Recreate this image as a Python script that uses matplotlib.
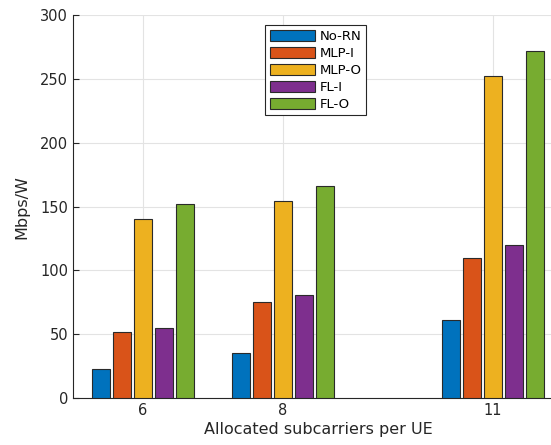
import numpy as np
import matplotlib.pyplot as plt

# Data
subcarriers = [6, 8, 11]
series = ["No-RN", "MLP-I", "MLP-O", "FL-I", "FL-O"]
no_rn = [23, 35, 61]
mlp_i = [52, 75, 110]
mlp_o = [140, 154, 252]
fl_i = [55, 81, 120]
fl_o = [152, 166, 272]
colors = ["#0072BD", "#D95319", "#EDB120", "#7E2F8E", "#77AC30"]

values = [no_rn, mlp_i, mlp_o, fl_i, fl_o]

fig = plt.figure(figsize=(5.51, 4.45), dpi=100)
ax = fig.add_axes([0.1325, 0.1056, 0.889, 0.8604])

x = np.array(subcarriers, dtype=float)
offsets = [-0.6, -0.3, 0.0, 0.3, 0.6]
for name, vals, c, off in zip(series, values, colors, offsets):
    ax.bar(x + off, vals, width=0.25, color=c, edgecolor="#2a2a2a",
           linewidth=0.8, label=name, zorder=3)

ax.set_xlim(5, 12)
ax.set_ylim(0, 300)
ax.set_xticks(subcarriers)
ax.set_yticks(range(0, 301, 50))
ax.grid(True, color="#e3e3e3", linewidth=0.8, zorder=0)
ax.set_axisbelow(True)
ax.tick_params(direction="in", length=4, labelsize=10.5, colors="#262626")
for side in ["top", "right"]:
    ax.spines[side].set_visible(False)
for side in ["left", "bottom"]:
    ax.spines[side].set_color("#262626")
    ax.spines[side].set_linewidth(0.8)

ax.set_xlabel("Allocated subcarriers per UE", fontsize=11.5, color="#262626",
              labelpad=3)
ax.set_ylabel("Mbps/W", fontsize=11.5, color="#262626", labelpad=8)

leg = ax.legend(loc="upper left", bbox_to_anchor=(0.392, 0.974),
                borderaxespad=0, fontsize=9.5, handlelength=3.4,
                handleheight=0.9, labelspacing=0.3, handletextpad=0.4,
                borderpad=0.35, fancybox=False, framealpha=1,
                edgecolor="#262626")
leg.get_frame().set_linewidth(0.8)

fig.savefig("out.png", dpi=100)
